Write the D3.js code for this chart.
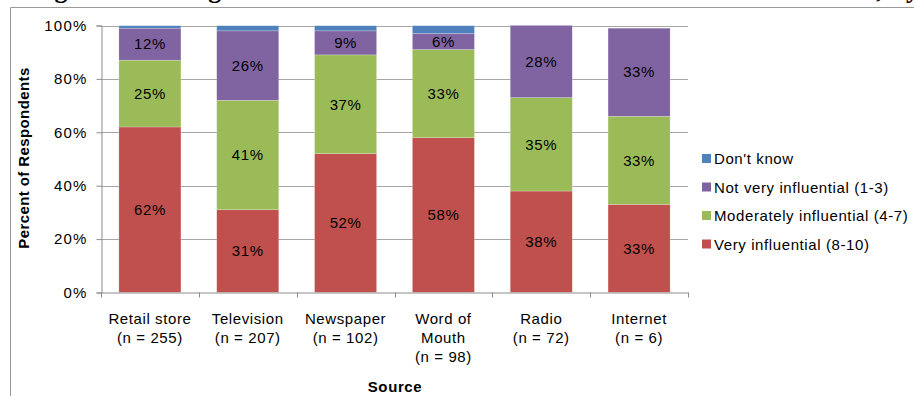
<!DOCTYPE html>
<html>
<head>
<meta charset="utf-8">
<script src="https://cdn.jsdelivr.net/npm/d3@7"></script>
<style>
  html, body { margin: 0; padding: 0; background: #fff; }
  svg { display: block; }
  text { font-family: "Liberation Sans", Arial, sans-serif; fill: #000; }
</style>
</head>
<body>
<svg id="chart" width="914" height="396"></svg>
<script>
// Sources and their respondent counts
const sources = ["Retail store", "Television", "Newspaper", "Word of Mouth", "Radio", "Internet"];
const sampleSizes = [255, 207, 102, 98, 72, 6];

// Percent of respondents per rating, stacked bottom to top
const veryInfluential = [62, 31, 52, 58, 38, 33];
const moderatelyInfluential = [25, 41, 37, 33, 35, 33];
const notVeryInfluential = [12, 26, 9, 6, 28, 33];
const dontKnow = [1, 2, 2, 3, 0, 0];

const seriesNames = ["Very influential (8-10)", "Moderately influential (4-7)", "Not very influential (1-3)", "Don't know"];
const seriesValues = [veryInfluential, moderatelyInfluential, notVeryInfluential, dontKnow];
const seriesColors = ["#C0504D", "#9BBB59", "#8064A2", "#4F81BD"];
const showLabel = [true, true, true, false];

const yTicks = [0, 20, 40, 60, 80, 100];

const svg = d3.select("#chart");
const LS = "0.6px"; // letter spacing for chart texts

// Heading running off the top edge
svg.append("text")
  .attr("x", 30).attr("y", -2)
  .style("font-family", "'Liberation Serif', 'Times New Roman', serif")
  .style("font-weight", "bold")
  .style("font-size", "26px")
  .style("letter-spacing", "0.7px")
  .text("Figure 4. Rating of Information Source Influence on Purchase Decisions, by");

// Chart frame
svg.append("path")
  .attr("d", "M10.5,396 V7.5 H914")
  .attr("fill", "none")
  .attr("stroke", "#9a9a9a")
  .attr("stroke-width", 1);

const plot = { left: 101, right: 688, top: 25.5, bottom: 292.5 };

const x = d3.scaleBand()
  .domain(sources)
  .range([plot.left, plot.right])
  .paddingInner(0.366)
  .paddingOuter(0.183);

const y = d3.scaleLinear().domain([0, 100]).range([plot.bottom, plot.top]);

// Gridlines
svg.append("g")
  .selectAll("line")
  .data(yTicks.filter(d => d > 0))
  .join("line")
  .attr("x1", plot.left).attr("x2", plot.right)
  .attr("y1", d => Math.round(y(d)) + 0.5).attr("y2", d => Math.round(y(d)) + 0.5)
  .attr("stroke", "#a6a6a6");

// Stack the series
const rows = sources.map((s, i) => {
  const r = { source: s };
  seriesNames.forEach((n, k) => { r[n] = seriesValues[k][i]; });
  return r;
});
const stacked = d3.stack().keys(seriesNames)(rows);

svg.append("defs").append("clipPath").attr("id", "plotClip")
  .append("rect")
  .attr("x", plot.left).attr("y", plot.top)
  .attr("width", plot.right - plot.left).attr("height", plot.bottom - plot.top);

const bars = svg.append("g").attr("clip-path", "url(#plotClip)");
stacked.forEach((layer, k) => {
  bars.append("g")
    .attr("fill", seriesColors[k])
    .selectAll("rect")
    .data(layer)
    .join("rect")
    .attr("x", d => x(d.data.source))
    .attr("width", x.bandwidth())
    .attr("y", d => y(d[1]))
    .attr("height", d => y(d[0]) - y(d[1]))
    .attr("stroke", "rgba(255,255,255,0.35)")
    .attr("stroke-width", 0.6);
});

// Segment value labels
const labels = svg.append("g").style("font-size", "15px").style("letter-spacing", LS).attr("text-anchor", "middle");
stacked.forEach((layer, k) => {
  if (!showLabel[k]) return;
  labels.selectAll(null)
    .data(layer)
    .join("text")
    .attr("x", d => x(d.data.source) + x.bandwidth() / 2)
    .attr("y", d => y((d[0] + Math.min(d[1], 100)) / 2))
    .attr("dy", "0.35em")
    .text(d => (d[1] - d[0]) + "%");
});

// Y axis
const yAxis = svg.append("g")
  .attr("transform", `translate(${plot.left + 0.5},0)`)
  .call(d3.axisLeft(y).tickValues(yTicks).tickFormat(d => d + "%").tickSize(5).tickPadding(9));
yAxis.select(".domain").attr("stroke", "#8c8c8c");
yAxis.selectAll(".tick line").attr("stroke", "#8c8c8c");
yAxis.selectAll(".tick text")
  .style("font-size", "15px")
  .style("letter-spacing", "1.2px")
  .style("font-family", "'Liberation Sans', Arial, sans-serif");

// X axis: baseline with ticks at category boundaries
const xAxisG = svg.append("g");
xAxisG.append("line")
  .attr("x1", plot.left).attr("x2", plot.right + 0.5)
  .attr("y1", plot.bottom + 0.5).attr("y2", plot.bottom + 0.5)
  .attr("stroke", "#8c8c8c");
const step = x.step();
xAxisG.selectAll("line.b")
  .data(d3.range(sources.length + 1))
  .join("line")
  .attr("class", "b")
  .attr("x1", i => Math.round(plot.left + i * step) + 0.5)
  .attr("x2", i => Math.round(plot.left + i * step) + 0.5)
  .attr("y1", plot.bottom).attr("y2", plot.bottom + 5)
  .attr("stroke", "#8c8c8c");

// Category labels with sample sizes
const catLabels = sources.map((s, i) => {
  const lines = s === "Word of Mouth" ? ["Word of", "Mouth"] : [s];
  return { source: s, lines: lines.concat([`(n = ${sampleSizes[i]})`]) };
});
const catG = svg.append("g").style("font-size", "15px").style("letter-spacing", LS).attr("text-anchor", "middle");
catLabels.forEach(c => {
  const t = catG.append("text")
    .attr("x", x(c.source) + x.bandwidth() / 2)
    .attr("y", 324);
  c.lines.forEach((ln, j) => {
    t.append("tspan")
      .attr("x", x(c.source) + x.bandwidth() / 2)
      .attr("dy", j === 0 ? 0 : 19)
      .text(ln);
  });
});

// Axis titles
svg.append("text")
  .attr("x", 395).attr("y", 392)
  .attr("text-anchor", "middle")
  .style("font-weight", "bold").style("font-size", "15px").style("letter-spacing", LS)
  .text("Source");

svg.append("text")
  .attr("transform", "translate(29,158) rotate(-90)")
  .attr("text-anchor", "middle")
  .style("font-weight", "bold").style("font-size", "15px").style("letter-spacing", "0.4px")
  .text("Percent of Respondents");

// Legend, top entry first
const legendOrder = [3, 2, 1, 0];
const legend = svg.append("g").style("font-size", "15px").style("letter-spacing", LS);
legendOrder.forEach((k, i) => {
  const cy = 159 + i * 28.5;
  legend.append("rect")
    .attr("x", 702).attr("y", cy - 5)
    .attr("width", 9).attr("height", 9)
    .attr("fill", seriesColors[k]);
  legend.append("text")
    .attr("x", 714).attr("y", cy)
    .attr("dy", "0.35em")
    .text(seriesNames[k]);
});
</script>
</body>
</html>
